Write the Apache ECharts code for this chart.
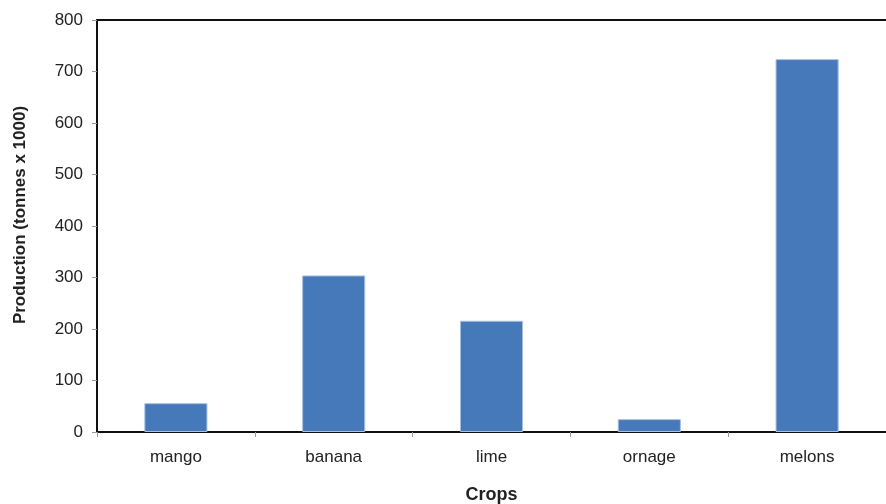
<!DOCTYPE html>
<html><head><meta charset="utf-8">
<script src="https://cdn.jsdelivr.net/npm/echarts@6/dist/echarts.min.js"></script>
<style>html,body{margin:0;padding:0;background:#fff;overflow:hidden}#c{width:886px;height:504px}</style>
</head><body><div id="c"></div>
<script>
const categories = ['mango', 'banana', 'lime', 'ornage', 'melons'];
const production = [56, 304, 216, 25, 724];
const yTicks = [0, 100, 200, 300, 400, 500, 600, 700, 800];

const chart = echarts.init(document.getElementById('c'), null, {renderer: 'canvas'});
const font = 'Liberation Sans, Arial, sans-serif';
chart.setOption({
  animation: false,
  grid: {left: 97, right: 0, top: 20, bottom: 72, containLabel: false, outerBoundsMode: 'none'},
  xAxis: [{
    type: 'category', data: categories,
    axisLine: {lineStyle: {color: '#111', width: 2}},
    axisTick: {show: true, length: 5, lineStyle: {color: '#999'}},
    axisLabel: {color: '#222', fontSize: 17, fontFamily: font, margin: 17},
    name: 'Crops', nameLocation: 'middle', nameGap: 54,
    nameTextStyle: {color: '#222', fontSize: 18, fontWeight: 'bold', fontFamily: font}
  }, {
    type: 'category', data: categories, position: 'top',
    axisLine: {lineStyle: {color: '#111', width: 2}},
    axisTick: {show: false}, axisLabel: {show: false}
  }],
  yAxis: {
    type: 'value', min: yTicks[0], max: yTicks[yTicks.length - 1], interval: 100,
    axisLine: {show: true, lineStyle: {color: '#111', width: 2}},
    axisTick: {show: true, length: 5, lineStyle: {color: '#999'}},
    splitLine: {show: false},
    axisLabel: {color: '#222', fontSize: 17, fontFamily: font, margin: 14},
    name: 'Production (tonnes x 1000)', nameLocation: 'middle', nameGap: 68,
    nameTextStyle: {color: '#222', fontSize: 17, fontWeight: 'bold', fontFamily: font, padding: [0, 0, 0, 22]}
  },
  series: [{
    type: 'bar', data: production, barWidth: '40%',
    itemStyle: {color: '#4679b9', borderColor: '#a8c0e2', borderWidth: 1}
  }]
});
</script></body></html>
